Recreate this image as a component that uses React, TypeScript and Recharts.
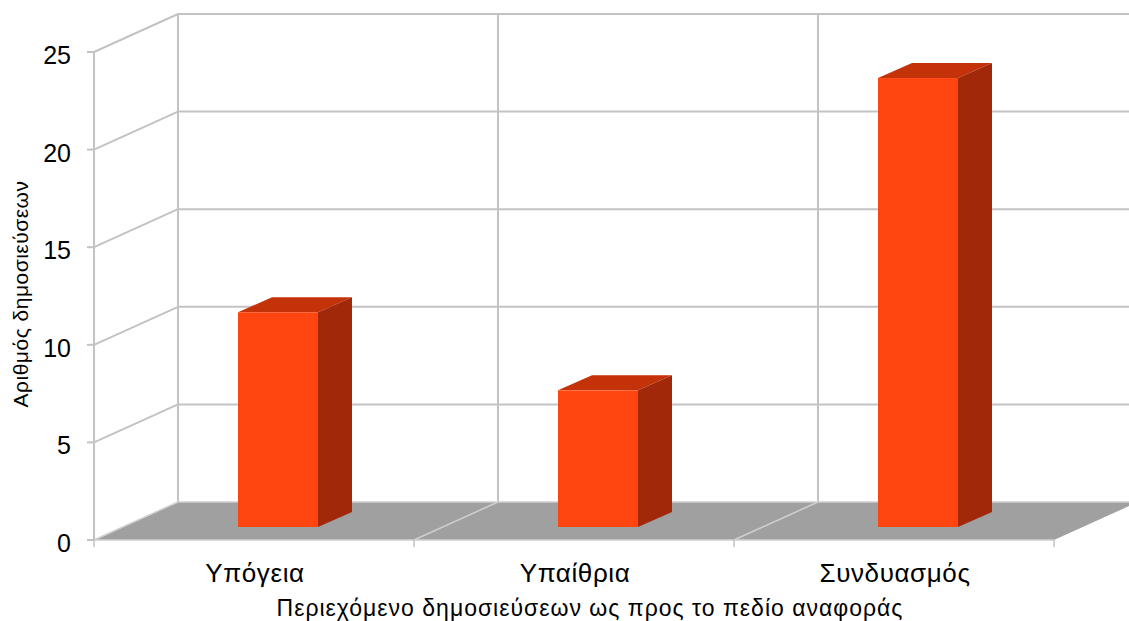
import { Bar, BarChart, CartesianGrid, Label, XAxis, YAxis } from "recharts";

const categories = ["Υπόγεια", "Υπαίθρια", "Συνδυασμός"];
const publications = [11, 7, 23];
const yTicks = [0, 5, 10, 15, 20, 25];

const data = categories.map((name, i) => ({ name, publications: publications[i] }));

// chart layout
const WIDTH = 1129;
const HEIGHT = 621;
const PLOT_TOP = 52;
const PLOT_BOTTOM = 540;
const Y_AXIS_W = 94;
const PLOT_RIGHT = 1054;

// fake 3D projection: depth of the walls, and of each bar inside its slot
const DEPTH_X = 84;
const DEPTH_Y = -38;
const BAR_SHIFT_X = 24;
const BAR_SHIFT_Y = -13;
const BAR_DEPTH_X = 34;
const BAR_DEPTH_Y = -15;

const GRID = "#c3c3c3";
const FLOOR = "#a0a0a0";
const FLOOR_EDGE = "#cfcfcf";
const FRONT = "#ff4611";
const TOP = "#c43209";
const SIDE = "#a1290a";
const FONT = "'Liberation Sans', Arial, sans-serif";

// each horizontal grid line becomes a back-wall line plus the side-wall diagonal;
// the zero line also carries the floor and the category dividers
function WallLine(props: any) {
  const { x1, x2, y1 } = props;
  const y = y1;
  const isFloor = Math.abs(y - PLOT_BOTTOM) < 1;
  const band = (x2 - x1) / categories.length;
  const bounds = Array.from({ length: categories.length + 1 }, (_, k) => x1 + k * band);

  if (isFloor) {
    return (
      <g>
        {bounds.map((bx, k) => (
          <line
            key={`v${k}`}
            x1={bx + DEPTH_X}
            y1={PLOT_TOP + DEPTH_Y}
            x2={bx + DEPTH_X}
            y2={PLOT_BOTTOM + DEPTH_Y}
            stroke={GRID}
            strokeWidth={2}
          />
        ))}
        <polygon
          points={`${x1},${y} ${x2},${y} ${x2 + DEPTH_X},${y + DEPTH_Y} ${x1 + DEPTH_X},${y + DEPTH_Y}`}
          fill={FLOOR}
        />
        <line x1={x1 + DEPTH_X} y1={y + DEPTH_Y} x2={x2 + DEPTH_X} y2={y + DEPTH_Y} stroke={FLOOR_EDGE} strokeWidth={1.5} />
        <line x1={x1} y1={y} x2={x2} y2={y} stroke={FLOOR_EDGE} strokeWidth={1.5} />
        {bounds.slice(0, -1).map((bx, k) => (
          <line key={`d${k}`} x1={bx} y1={y} x2={bx + DEPTH_X} y2={y + DEPTH_Y} stroke={FLOOR_EDGE} strokeWidth={1.5} />
        ))}
        {bounds.map((bx, k) => (
          <line key={`t${k}`} x1={bx} y1={y} x2={bx} y2={y + 7} stroke={GRID} strokeWidth={1.5} />
        ))}
      </g>
    );
  }

  return (
    <g>
      <line x1={x1 + DEPTH_X} y1={y + DEPTH_Y} x2={x2 + DEPTH_X} y2={y + DEPTH_Y} stroke={GRID} strokeWidth={2} />
      <line x1={x1} y1={y} x2={x1 + DEPTH_X} y2={y + DEPTH_Y} stroke={GRID} strokeWidth={2} />
    </g>
  );
}

function Bar3D(props: any) {
  const { x, y, width, height } = props;
  const fx = x + BAR_SHIFT_X;
  const fy = y + BAR_SHIFT_Y;
  const right = fx + width;
  const bottom = fy + height;
  return (
    <g>
      <polygon
        points={`${fx},${fy} ${right},${fy} ${right + BAR_DEPTH_X},${fy + BAR_DEPTH_Y} ${fx + BAR_DEPTH_X},${fy + BAR_DEPTH_Y}`}
        fill={TOP}
      />
      <polygon
        points={`${right},${fy} ${right + BAR_DEPTH_X},${fy + BAR_DEPTH_Y} ${right + BAR_DEPTH_X},${bottom + BAR_DEPTH_Y} ${right},${bottom}`}
        fill={SIDE}
      />
      <rect x={fx} y={fy} width={width} height={height} fill={FRONT} />
    </g>
  );
}

function YTick(props: any) {
  const { y, payload } = props;
  return (
    <text x={71} y={y} dy={12} textAnchor="end" fontSize={25} fontFamily={FONT} fill="#000">
      {payload.value}
    </text>
  );
}

function XTick(props: any) {
  const { x, payload } = props;
  return (
    <text x={x + 1} y={582} textAnchor="middle" fontSize={26} letterSpacing={0.6} fontFamily={FONT} fill="#000">
      {payload.value}
    </text>
  );
}

export default function App() {
  return (
    <div style={{ position: "absolute", left: 0, top: 0, background: "#fff" }}>
      <BarChart
        width={WIDTH}
        height={HEIGHT}
        data={data}
        margin={{ top: PLOT_TOP, right: WIDTH - PLOT_RIGHT, bottom: 0, left: 0 }}
      >
        <CartesianGrid vertical={false} horizontal={(p: any) => <WallLine key={p.key} {...p} />} />
        <XAxis
          dataKey="name"
          height={HEIGHT - PLOT_BOTTOM}
          axisLine={false}
          tickLine={false}
          tick={<XTick />}
          interval={0}
        >
          <Label
            content={(p: any) => (
              <text
                x={p.viewBox.x + p.viewBox.width / 2 + 16}
                y={616}
                textAnchor="middle"
                fontSize={23}
                letterSpacing={1}
                fontFamily={FONT}
                fill="#000"
              >
                Περιεχόμενο δημοσιεύσεων ως προς το πεδίο αναφοράς
              </text>
            )}
          />
        </XAxis>
        <YAxis
          width={Y_AXIS_W}
          domain={[0, 25]}
          ticks={yTicks}
          interval={0}
          axisLine={{ stroke: GRID, strokeWidth: 2 }}
          tickLine={{ stroke: GRID, strokeWidth: 2 }}
          tickSize={7}
          tick={<YTick />}
        >
          <Label
            content={(p: any) => {
              const cy = p.viewBox.y + p.viewBox.height / 2 - 2;
              return (
                <text
                  x={28}
                  y={cy}
                  transform={`rotate(-90, 28, ${cy})`}
                  textAnchor="middle"
                  fontSize={21}
                  letterSpacing={0.5}
                  fontFamily={FONT}
                  fill="#000"
                >
                  Αριθμός δημοσιεύσεων
                </text>
              );
            }}
          />
        </YAxis>
        <Bar dataKey="publications" barSize={80} shape={<Bar3D />} isAnimationActive={false} />
      </BarChart>
    </div>
  );
}
